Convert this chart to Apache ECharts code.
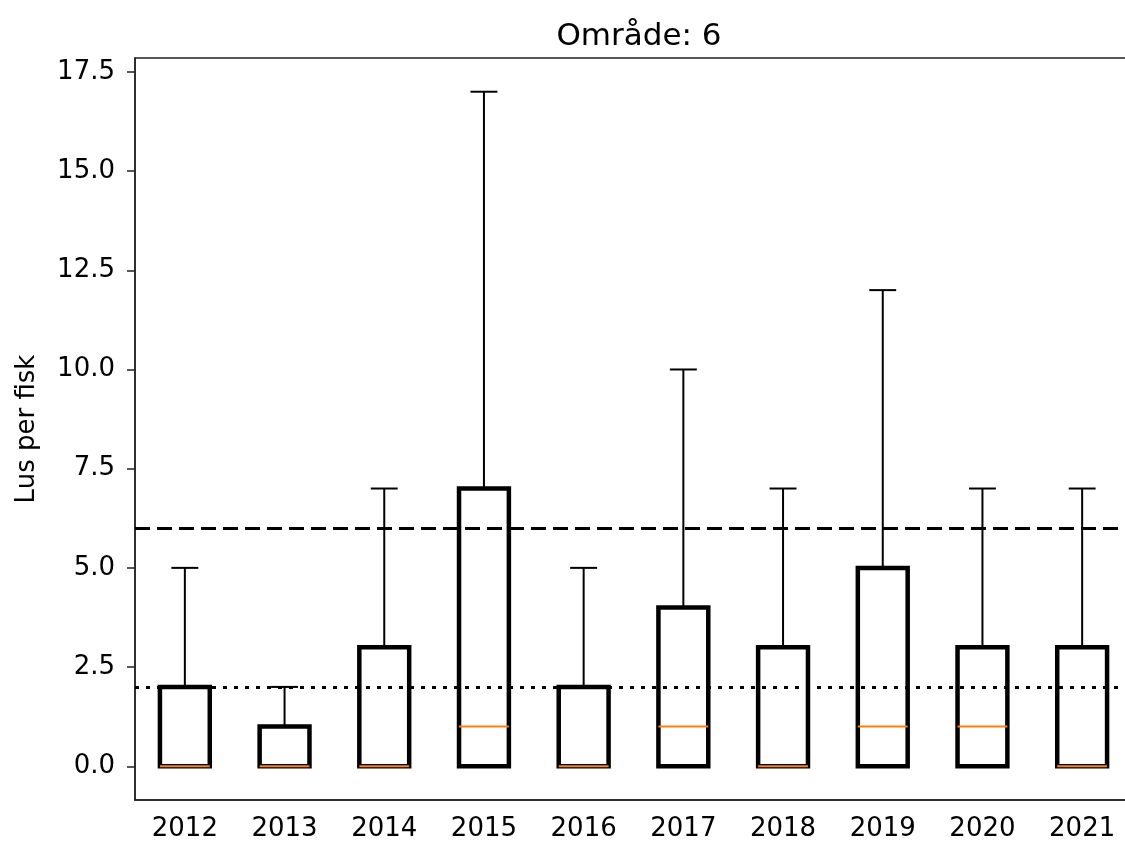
<!DOCTYPE html>
<html>
<head>
<meta charset="utf-8">
<script src="https://cdn.jsdelivr.net/npm/echarts@6/dist/echarts.min.js"></script>
<style>
html,body{margin:0;padding:0;background:#fff;}
#chart{width:1125px;height:847px;}
</style>
</head>
<body>
<div id="chart"></div>
<script>
// ---- data ----
const years = ['2012','2013','2014','2015','2016','2017','2018','2019','2020','2021'];
const mins    = [0, 0, 0, 0, 0, 0, 0, 0, 0, 0];
const q1s     = [0, 0, 0, 0, 0, 0, 0, 0, 0, 0];
const medians = [0, 0, 0, 1, 0, 1, 0, 1, 1, 0];
const q3s     = [2, 1, 3, 7, 2, 4, 3, 5, 3, 3];
const maxs    = [5, 2, 7, 17, 5, 10, 7, 12, 7, 7];
const yTicks  = [0, 2.5, 5, 7.5, 10, 12.5, 15, 17.5];
const dashedLevel = 6;
const dottedLevel = 2;

const boxData = years.map((y, i) => [i, mins[i], q1s[i], medians[i], q3s[i], maxs[i]]);

const FONT = 'DejaVu Sans';
const chart = echarts.init(document.getElementById('chart'), null, {renderer: 'canvas'});

function renderBox(params, api) {
  const i = api.value(0);
  const lo = api.value(1), q1 = api.value(2), med = api.value(3), q3 = api.value(4), hi = api.value(5);
  const bw = api.size([1, 0])[0];
  const cx = api.coord([i, med])[0];
  const Y = v => api.coord([i, v])[1];
  const half = bw * 0.25;
  const capHalf = bw * 0.135;
  const children = [];
  children.push({type: 'line', shape: {x1: cx, y1: Y(q3), x2: cx, y2: Y(hi)}, style: {stroke: '#000', lineWidth: 2}});
  children.push({type: 'line', shape: {x1: cx, y1: Y(q1), x2: cx, y2: Y(lo)}, style: {stroke: '#000', lineWidth: 2}});
  children.push({type: 'line', shape: {x1: cx - capHalf, y1: Y(hi), x2: cx + capHalf, y2: Y(hi)}, style: {stroke: '#000', lineWidth: 2}});
  children.push({type: 'line', shape: {x1: cx - capHalf, y1: Y(lo), x2: cx + capHalf, y2: Y(lo)}, style: {stroke: '#000', lineWidth: 2}});
  children.push({type: 'rect', shape: {x: cx - half, y: Y(q3), width: half * 2, height: Y(q1) - Y(q3)},
                 style: {fill: 'none', stroke: '#000', lineWidth: 4.5, lineJoin: 'miter'}});
  children.push({type: 'line', shape: {x1: cx - half, y1: Y(med), x2: cx + half, y2: Y(med)}, style: {stroke: '#ff7f0e', lineWidth: 2}});
  return {type: 'group', children};
}

chart.setOption({
  animation: false,
  backgroundColor: '#fff',
  title: {
    text: 'Område: 6',
    left: 634, top: 16, textAlign: 'center',
    textStyle: {fontFamily: FONT, fontSize: 31, fontWeight: 'normal', color: '#000'}
  },
  grid: {left: 135, top: 58, width: 997, height: 742, outerBoundsMode: 'none', containLabel: false,
         show: true, borderColor: '#222', borderWidth: 1.5, backgroundColor: 'transparent'},
  xAxis: {
    type: 'category',
    data: years,
    boundaryGap: true,
    axisLine: {onZero: false, lineStyle: {color: '#222', width: 1.5}},
    axisTick: {alignWithLabel: true, length: 8, lineStyle: {color: '#222', width: 1.5}},
    axisLabel: {fontFamily: FONT, fontSize: 26, color: '#000', margin: 16},
    splitLine: {show: false}
  },
  yAxis: {
    type: 'value',
    min: -0.85, max: 17.85,
    name: 'Lus per fisk',
    nameLocation: 'middle',
    nameGap: 95,
    nameTextStyle: {fontFamily: FONT, fontSize: 26, color: '#000'},
    axisLine: {show: true, onZero: false, lineStyle: {color: '#222', width: 1.5}},
    axisTick: {show: true, length: 8, customValues: yTicks, lineStyle: {color: '#222', width: 1.5}},
    axisLabel: {fontFamily: FONT, fontSize: 26, color: '#000', margin: 20, customValues: yTicks,
                formatter: v => Number(v).toFixed(1)},
    splitLine: {show: false}
  },
  series: [{
    type: 'custom',
    renderItem: renderBox,
    data: boxData,
    encode: {x: 0, y: [1, 2, 3, 4, 5]},
    z: 2,
    markLine: {
      silent: true,
      symbol: ['none', 'none'],
      label: {show: false},
      data: [
        {yAxis: dashedLevel, lineStyle: {color: '#000', width: 3, type: [15, 7]}},
        {yAxis: dottedLevel, lineStyle: {color: '#000', width: 3, type: [4, 7]}}
      ]
    }
  }]
});
</script>
</body>
</html>
